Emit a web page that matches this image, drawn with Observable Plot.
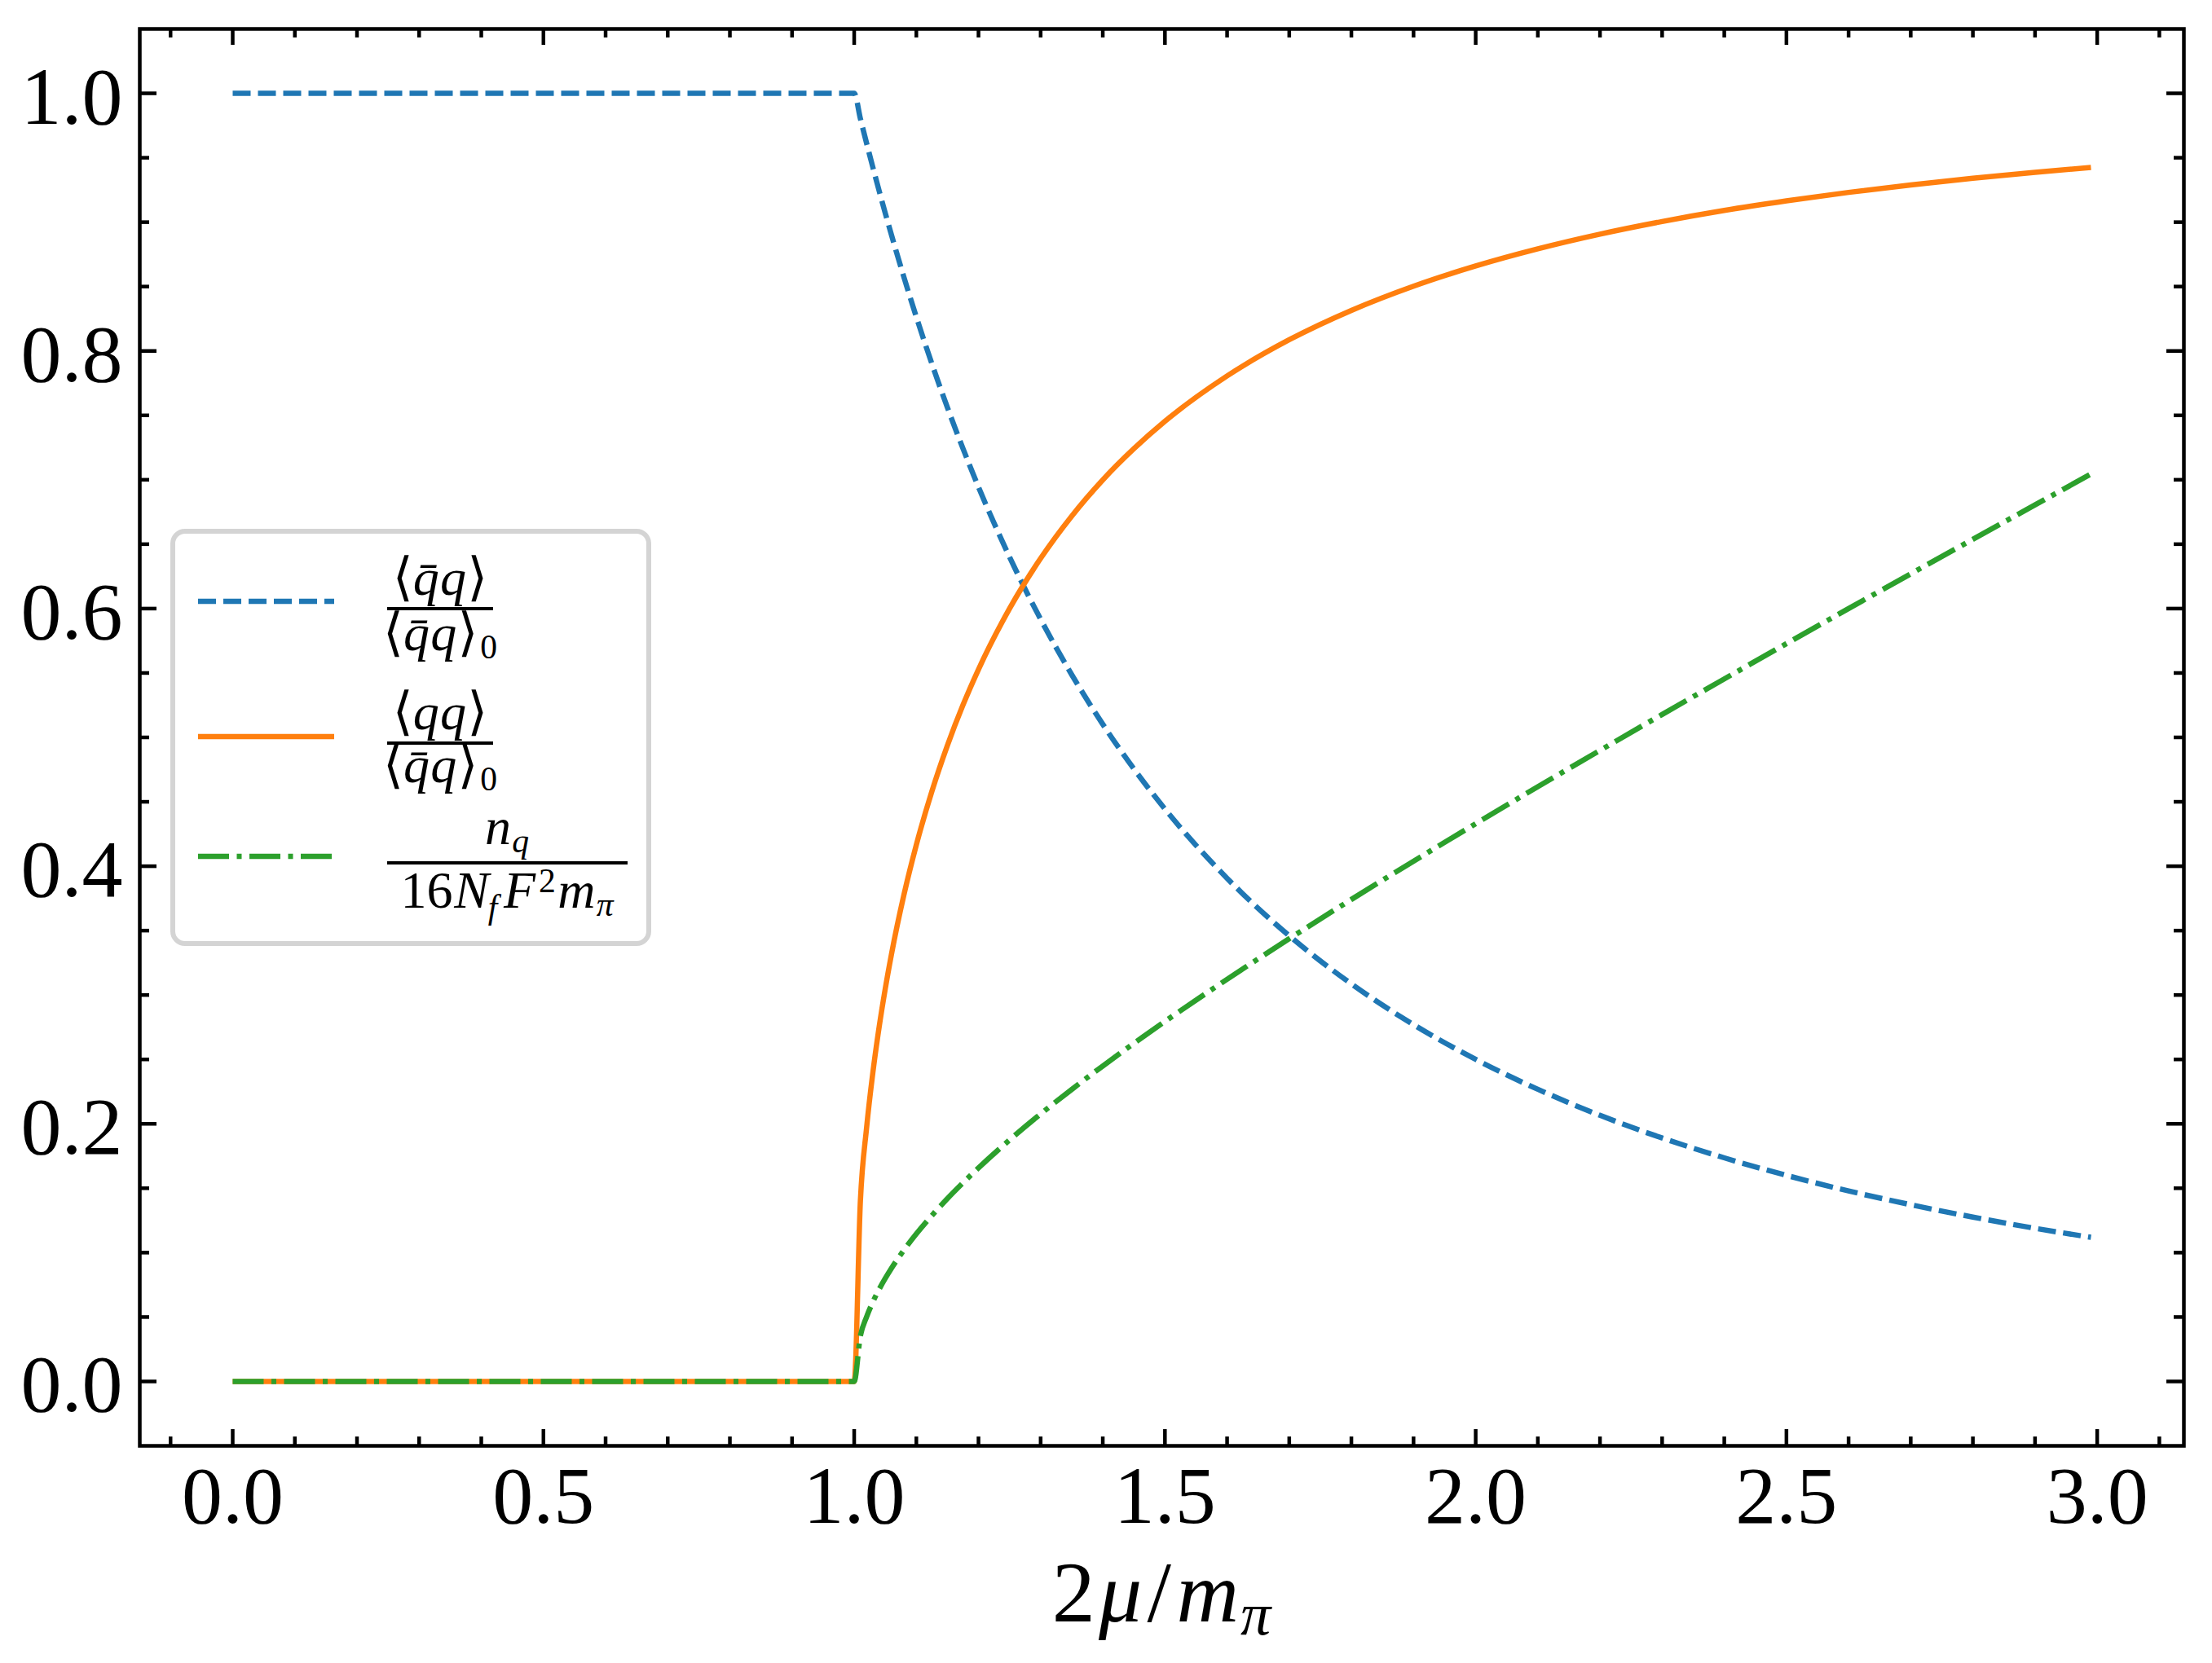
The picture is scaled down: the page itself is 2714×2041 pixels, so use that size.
<!DOCTYPE html>
<html><head><meta charset="utf-8">
<script src="https://cdn.jsdelivr.net/npm/d3@7"></script>
<script src="https://cdn.jsdelivr.net/npm/@observablehq/plot@0.6"></script>
<style>body{margin:0;background:#fff}</style>
</head><body><div id="chart"></div>
<script>
// 2mu/m_pi sample points
const mu = [0, 0.5, 1.0, 1.01, 1.02, 1.03, 1.04, 1.05, 1.06, 1.08, 1.10, 1.125, 1.15, 1.175, 1.20, 1.25, 1.30, 1.35, 1.40, 1.45, 1.50, 1.60, 1.70, 1.80, 1.90, 2.00, 2.10, 2.20, 2.30, 2.40, 2.50, 2.60, 2.70, 2.80, 2.90, 2.99];
// <qbar q>/<qbar q>_0
const condensate = [1, 1, 1, 0.9803, 0.9612, 0.9426, 0.9246, 0.9070, 0.8900, 0.8573, 0.8264, 0.7901, 0.7561, 0.7243, 0.6944, 0.6400, 0.5917, 0.5487, 0.5102, 0.4756, 0.4444, 0.3906, 0.3460, 0.3086, 0.2770, 0.2500, 0.2268, 0.2066, 0.1890, 0.1736, 0.1600, 0.1479, 0.1372, 0.1276, 0.1189, 0.1119];
// <qq>/<qbar q>_0
const diquark = [0, 0, 0, 0.1404, 0.1971, 0.2396, 0.2747, 0.3049, 0.3317, 0.3777, 0.4166, 0.4581, 0.4938, 0.5251, 0.5528, 0.6000, 0.6390, 0.6718, 0.6999, 0.7241, 0.7454, 0.7806, 0.8087, 0.8315, 0.8503, 0.8660, 0.8793, 0.8907, 0.9005, 0.9091, 0.9165, 0.9231, 0.9289, 0.9341, 0.9387, 0.9424];
// n_q/(16 N_f F^2 m_pi)
const density = [0, 0, 0, 0.0354, 0.0502, 0.0617, 0.0714, 0.0800, 0.0879, 0.1020, 0.1146, 0.1288, 0.1420, 0.1542, 0.1658, 0.1875, 0.2077, 0.2267, 0.2449, 0.2625, 0.2795, 0.3122, 0.3437, 0.3742, 0.4039, 0.4330, 0.4617, 0.4899, 0.5178, 0.5454, 0.5728, 0.6000, 0.6270, 0.6538, 0.6805, 0.7045];

const xMajor = [0, 0.5, 1.0, 1.5, 2.0, 2.5, 3.0];
const xMinor = [-0.1, 0.1, 0.2, 0.3, 0.4, 0.6, 0.7, 0.8, 0.9, 1.1, 1.2, 1.3, 1.4, 1.6, 1.7, 1.8, 1.9, 2.1, 2.2, 2.3, 2.4, 2.6, 2.7, 2.8, 2.9, 3.1];
const yMajor = [0, 0.2, 0.4, 0.6, 0.8, 1.0];
const yMinor = [0.05, 0.1, 0.15, 0.25, 0.3, 0.35, 0.45, 0.5, 0.55, 0.65, 0.7, 0.75, 0.85, 0.9, 0.95];

const rows = mu.map((x, i) => ({x, b: condensate[i], o: diquark[i], g: density[i]}));

const W = 2714, H = 2041, ML = 171, MR = 35, MT = 35, MB = 267;
const PW = W - ML - MR, PH = H - MT - MB;
const BLUE = "#1f77b4", ORANGE = "#ff7f0e", GREEN = "#2ca02c";
const DASH = "22,9", DASHDOT = "38,9.5,6,9.5";
const LW = 6.5;
const fmt = d3.format(".1f");

const chart = Plot.plot({
  width: W, height: H,
  marginLeft: ML, marginRight: MR, marginTop: MT, marginBottom: MB,
  style: {fontFamily: "'Liberation Serif', 'DejaVu Serif', serif", background: "white", color: "black"},
  x: {domain: [-0.1495, 3.1395]},
  y: {domain: [-0.05, 1.05]},
  marks: [
    Plot.line(rows, {x: "x", y: "b", stroke: BLUE, strokeWidth: LW, strokeDasharray: DASH, strokeLinecap: "butt", curve: "monotone-x"}),
    Plot.line(rows, {x: "x", y: "o", stroke: ORANGE, strokeWidth: LW, strokeLinecap: "butt", curve: "monotone-x"}),
    Plot.line(rows, {x: "x", y: "g", stroke: GREEN, strokeWidth: LW, strokeDasharray: DASHDOT, strokeLinecap: "butt", curve: "monotone-x"}),
    Plot.frame({stroke: "black", strokeWidth: 4.5}),
    Plot.tickX(xMajor, {x: d => d, stroke: "black", strokeWidth: 4.5, insetTop: PH - 20}),
    Plot.tickX(xMajor, {x: d => d, stroke: "black", strokeWidth: 4.5, insetBottom: PH - 20}),
    Plot.tickX(xMinor, {x: d => d, stroke: "black", strokeWidth: 4.5, insetTop: PH - 11}),
    Plot.tickX(xMinor, {x: d => d, stroke: "black", strokeWidth: 4.5, insetBottom: PH - 11}),
    Plot.tickY(yMajor, {y: d => d, stroke: "black", strokeWidth: 4.5, insetRight: PW - 21}),
    Plot.tickY(yMajor, {y: d => d, stroke: "black", strokeWidth: 4.5, insetLeft: PW - 21}),
    Plot.tickY(yMinor, {y: d => d, stroke: "black", strokeWidth: 4.5, insetRight: PW - 12}),
    Plot.tickY(yMinor, {y: d => d, stroke: "black", strokeWidth: 4.5, insetLeft: PW - 12}),
    Plot.axisX(xMajor, {anchor: "bottom", tickSize: 0, tickPadding: 23, tickFormat: fmt, fontSize: 100, label: null}),
    Plot.axisY(yMajor, {anchor: "left", tickSize: 0, tickPadding: 21, tickFormat: fmt, fontSize: 100, label: null, dy: 5})
  ]
});
document.getElementById("chart").appendChild(chart);

const svg = d3.select(chart);

// rich text helper: parts = [text, italic, shift(em), scale, dx(em)]
function rich(g, x, y, size, parts, anchor = "middle") {
  const t = g.append("text").attr("x", x).attr("y", y).attr("font-size", size)
    .attr("text-anchor", anchor).attr("fill", "black");
  let cur = 0;
  for (const [s, it, shift = 0, scale = 1, dx = 0] of parts) {
    const sp = t.append("tspan").text(s).attr("font-size", size * scale)
      .attr("dy", (shift - cur) * size);
    if (dx) sp.attr("dx", dx * size);
    if (it) sp.attr("font-style", "italic");
    cur = shift;
  }
  return t;
}

// x-axis label
rich(svg.append("g"), ML + PW / 2, 1990, 106, [
  ["2", false], ["μ", true, 0, 1, 0.04], ["/", false, 0, 1, 0.06], ["m", true, 0, 1, 0.06], ["π", true, 0.15, 0.7, 0.02]
]);

// legend
const lg = svg.append("g");
lg.append("rect").attr("x", 212).attr("y", 652).attr("width", 584).attr("height", 506)
  .attr("rx", 15).attr("fill", "white").attr("stroke", "#d4d4d4").attr("stroke-width", 6);

const handles = [
  {y: 738, stroke: BLUE, dash: DASH},
  {y: 904, stroke: ORANGE, dash: null},
  {y: 1051, stroke: GREEN, dash: DASHDOT}
];
for (const h of handles) {
  lg.append("line").attr("x1", 243).attr("x2", 410).attr("y1", h.y).attr("y2", h.y)
    .attr("stroke", h.stroke).attr("stroke-width", LW).attr("stroke-dasharray", h.dash);
}

const FS = 64;
const qbq = [["⟨", false], ["q̄", true], ["q", true, 0, 1, 0.02], ["⟩", false, 0, 1, 0.02]];
const qq = [["⟨", false], ["q", true], ["q", true, 0, 1, 0.02], ["⟩", false, 0, 1, 0.02]];
const qbq0 = [...qbq, ["0", false, 0.15, 0.65, 0.04]];
function frac(cx, x1, x2, barY, num, numY, den, denY) {
  lg.append("line").attr("x1", x1).attr("x2", x2).attr("y1", barY).attr("y2", barY)
    .attr("stroke", "black").attr("stroke-width", 4);
  rich(lg, cx, numY, FS, num);
  rich(lg, cx, denY, FS, den);
}
frac(540, 475, 605, 747, qbq, 730, qbq0, 798);
frac(540, 475, 605, 912, qq, 895, qbq0, 960);
frac(622, 475, 770, 1059,
  [["n", true], ["q", true, 0.15, 0.65, 0.02]], 1036,
  [["16", false], ["N", true, 0, 1, 0.03], ["f", true, 0.2, 0.65, -0.02], ["F", true, 0, 1, 0.12], ["2", false, -0.3, 0.65, 0.06], ["m", true, 0, 1, 0.04], ["π", true, 0.15, 0.65, 0.02]], 1114);
</script>
</body></html>
